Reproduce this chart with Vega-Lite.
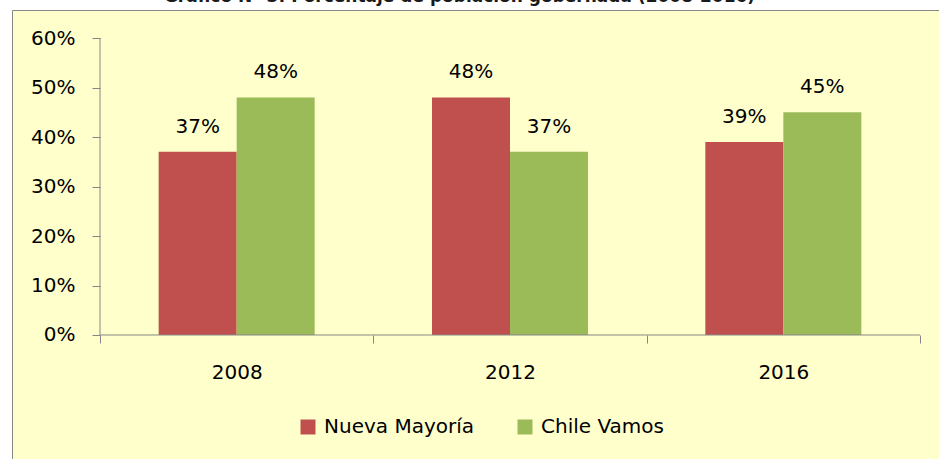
{
  "$schema": "https://vega.github.io/schema/vega-lite/v6.json",
  "autosize": "none",
  "padding": {"left": 12, "top": 10, "right": 0, "bottom": 0},
  "width": 935,
  "height": 460,
  "background": "white",
  "title": {
    "text": "Gráfico N° 3: Porcentaje de población gobernada (2008-2016)",
    "font": "DejaVu Sans",
    "fontSize": 17,
    "fontWeight": "bold",
    "color": "#1a1a1a",
    "anchor": "middle",
    "baseline": "alphabetic",
    "offset": 3,
    "dy": 12,
    "dx": -20
  },
  "config": {
    "view": {"fill": "#FFFFCC", "stroke": "#878787", "strokeWidth": 1},
    "font": "DejaVu Sans"
  },
  "datasets": {
    "bars": [
      {"year": "2008", "series": "Nueva Mayoría", "value": 0.37},
      {"year": "2008", "series": "Chile Vamos", "value": 0.48},
      {"year": "2012", "series": "Nueva Mayoría", "value": 0.48},
      {"year": "2012", "series": "Chile Vamos", "value": 0.37},
      {"year": "2016", "series": "Nueva Mayoría", "value": 0.39},
      {"year": "2016", "series": "Chile Vamos", "value": 0.45}
    ],
    "yline": [{"year": "2008", "lo": 0, "hi": 0.6}],
    "xline": [{"start": "2008", "end": "2016", "value": 0}]
  },
  "layer": [
    {
      "data": {"name": "bars"},
      "mark": {"type": "bar"},
      "encoding": {
        "x": {
          "field": "year",
          "type": "nominal",
          "scale": {
            "type": "band",
            "domain": ["2008", "2012", "2016"],
            "paddingInner": 0,
            "paddingOuter": 0.21037,
            "align": 0.76522
          },
          "axis": {
            "title": null,
            "offset": -135,
            "domain": false,
            "tickBand": "extent",
            "tickColor": "#868686",
            "tickSize": 8,
            "labelFontSize": 20,
            "labelFont": "DejaVu Sans",
            "labelColor": "black",
            "labelBaseline": "alphabetic",
            "labelPadding": 35,
            "labelAngle": 0
          }
        },
        "y": {
          "field": "value",
          "type": "quantitative",
          "scale": {"domain": [-0.27273, 0.65657], "nice": false, "zero": false},
          "axis": {
            "title": null,
            "values": [0, 0.1, 0.2, 0.3, 0.4, 0.5, 0.6],
            "format": ".0%",
            "offset": -88,
            "domain": false,
            "grid": false,
            "tickColor": "#868686",
            "tickSize": 8,
            "labelFontSize": 20,
            "labelFont": "DejaVu Sans",
            "labelColor": "black",
            "labelPadding": 17
          }
        },
        "xOffset": {
          "field": "series",
          "type": "nominal",
          "scale": {"domain": ["Nueva Mayoría", "Chile Vamos"], "paddingInner": 0, "paddingOuter": 0.752}
        },
        "y2": {"datum": 0},
        "color": {
          "field": "series",
          "type": "nominal",
          "scale": {"domain": ["Nueva Mayoría", "Chile Vamos"], "range": ["#C0504D", "#9BBB59"]},
          "legend": {
            "orient": "none",
            "legendX": 286,
            "legendY": 407,
            "direction": "horizontal",
            "title": null,
            "symbolType": "square",
            "symbolSize": 225,
            "symbolStrokeWidth": 0,
            "labelFontSize": 20,
            "labelFont": "DejaVu Sans",
            "labelColor": "black",
            "labelLimit": 400,
            "columnPadding": 40,
            "labelOffset": 6,
            "padding": 0
          }
        }
      }
    },
    {
      "data": {"name": "bars"},
      "mark": {"type": "text", "baseline": "alphabetic", "align": "center", "dy": -19, "fontSize": 20, "font": "DejaVu Sans", "color": "black"},
      "encoding": {
        "x": {"field": "year", "type": "nominal"},
        "y": {"field": "value", "type": "quantitative"},
        "xOffset": {"field": "series", "type": "nominal"},
        "text": {"field": "value", "type": "quantitative", "format": ".0%"}
      }
    },
    {
      "data": {"name": "yline"},
      "mark": {"type": "rule", "color": "#868686", "strokeWidth": 1},
      "encoding": {
        "x": {"field": "year", "type": "nominal", "bandPosition": 0},
        "y": {"field": "lo", "type": "quantitative"},
        "y2": {"field": "hi"}
      }
    },
    {
      "data": {"name": "xline"},
      "mark": {"type": "rule", "color": "#868686", "strokeWidth": 1},
      "encoding": {
        "x": {"field": "start", "type": "nominal", "bandPosition": 0},
        "x2": {"field": "end", "bandPosition": 1},
        "y": {"field": "value", "type": "quantitative"}
      }
    }
  ]
}
